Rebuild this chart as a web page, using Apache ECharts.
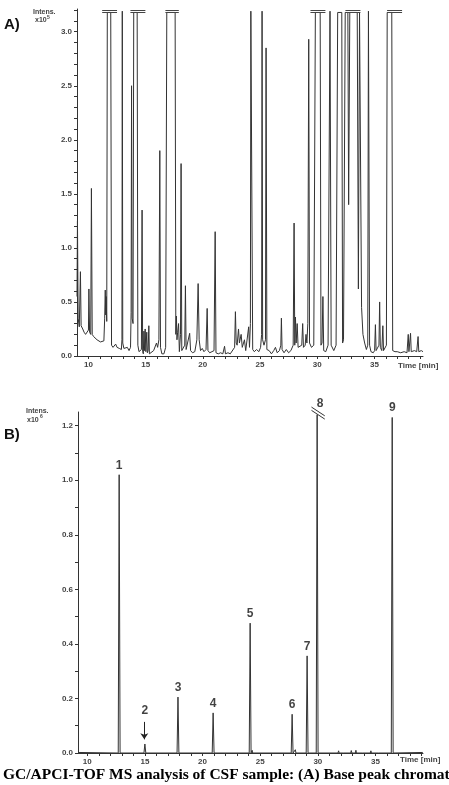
<!DOCTYPE html>
<html>
<head>
<meta charset="utf-8">
<script src="https://cdn.jsdelivr.net/npm/echarts@6/dist/echarts.min.js"></script>
<style>
html, body { margin: 0; padding: 0; background: #fff; }
#chart { width: 449px; height: 785px; }
</style>
</head>
<body>
<div id="chart"></div>
<script>
// A) base peak chromatogram, time [min] vs intensity x10^5
var traceA = [
    [9.0, 0.55], [9.04, 1.25], [9.1, 0.35], [9.2, 0.27], [9.3, 0.78], [9.36, 0.28], [9.5, 0.25], [9.62, 0.22],
    [9.75, 0.2], [9.9, 0.21], [10.0, 0.24], [10.04, 0.62], [10.1, 0.22], [10.2, 0.2], [10.26, 1.55], [10.33, 0.2],
    [10.45, 0.18], [10.6, 0.17], [10.75, 0.15], [10.9, 0.16], [11.05, 0.13], [11.2, 0.14], [11.35, 0.14],
    [11.42, 0.35], [11.47, 0.61], [11.51, 0.38], [11.55, 0.55], [11.6, 0.32],
    [11.65, 3.178], [11.95, 3.178], [12.02, 0.1], [12.15, 0.08], [12.3, 0.09], [12.38, 0.11], [12.5, 0.08],
    [12.7, 0.07], [12.88, 0.06], [12.93, 0.15], [12.96, 3.19], [13.0, 0.12], [13.1, 0.07], [13.25, 0.06],
    [13.4, 0.08], [13.55, 0.05], [13.68, 0.08], [13.73, 0.4], [13.77, 2.5], [13.82, 0.35], [13.9, 0.3],
    [13.96, 3.178], [14.26, 3.178], [14.32, 0.1], [14.42, 0.04], [14.55, 0.03], [14.63, 0.06], [14.69, 1.35],
    [14.74, 0.04], [14.8, 0.02], [14.85, 0.23], [14.9, 0.05], [14.96, 0.25], [15.02, 0.04], [15.1, 0.22],
    [15.15, 0.03], [15.22, 0.05], [15.28, 0.28], [15.33, 0.02], [15.5, 0.03], [15.7, 0.05], [15.85, 0.04],
    [15.95, 0.12], [16.05, 0.08], [16.16, 0.15], [16.24, 1.9], [16.3, 0.08], [16.42, 0.02], [16.6, 0.02],
    [16.75, 0.08], [16.85, 3.178], [17.58, 3.178], [17.64, 0.2], [17.69, 0.37], [17.74, 0.15], [17.8, 0.22],
    [17.88, 0.3], [17.95, 0.04], [18.05, 0.2], [18.1, 1.78], [18.16, 0.05], [18.3, 0.04], [18.42, 0.1],
    [18.48, 0.65], [18.54, 0.06], [18.7, 0.05], [18.85, 0.21], [18.93, 0.05], [19.1, 0.03], [19.3, 0.04],
    [19.48, 0.15], [19.59, 0.67], [19.68, 0.15], [19.8, 0.05], [19.95, 0.07], [20.1, 0.04], [20.28, 0.06],
    [20.38, 0.44], [20.45, 0.05], [20.6, 0.03], [20.8, 0.04], [20.98, 0.05], [21.08, 1.15], [21.15, 0.03],
    [21.35, 0.02], [21.55, 0.03], [21.75, 0.02], [21.9, 0.09], [21.98, 0.02], [22.2, 0.03], [22.4, 0.02],
    [22.55, 0.03], [22.78, 0.08], [22.85, 0.41], [22.92, 0.12], [23.0, 0.1], [23.12, 0.25], [23.2, 0.12],
    [23.35, 0.2], [23.45, 0.08], [23.64, 0.15], [23.75, 0.05], [23.9, 0.06], [24.01, 0.27], [24.08, 0.08],
    [24.16, 0.3], [24.2, 3.19], [24.3, 3.19], [24.36, 0.06], [24.5, 0.04], [24.7, 0.06], [24.9, 0.04],
    [25.05, 0.08], [25.14, 0.2], [25.18, 3.19], [25.23, 0.15], [25.35, 0.1], [25.48, 0.15], [25.53, 2.85],
    [25.6, 0.06], [25.8, 0.05], [26.0, 0.02], [26.2, 0.05], [26.35, 0.08], [26.5, 0.03], [26.7, 0.05],
    [26.82, 0.1], [26.87, 0.35], [26.93, 0.06], [27.1, 0.03], [27.3, 0.06], [27.5, 0.03], [27.7, 0.05],
    [27.9, 0.1], [27.98, 1.23], [28.04, 0.1], [28.1, 0.36], [28.16, 0.12], [28.25, 0.3], [28.33, 0.08],
    [28.5, 0.08], [28.65, 0.1], [28.73, 0.3], [28.8, 0.08], [28.95, 0.1], [29.02, 0.2], [29.1, 0.12],
    [29.18, 0.3], [29.26, 2.93], [29.33, 0.12], [29.5, 0.08], [29.7, 0.1], [29.84, 3.178], [30.26, 3.178],
    [30.33, 0.1], [30.42, 0.12], [30.5, 0.55], [30.57, 0.05], [30.75, 0.04], [30.95, 0.1], [31.12, 3.19],
    [31.22, 0.1], [31.45, 0.05], [31.65, 0.1], [31.79, 3.178], [32.15, 3.178], [32.22, 0.12], [32.3, 0.15],
    [32.45, 3.178], [32.68, 3.178], [32.75, 1.4], [32.85, 3.178], [33.5, 3.178], [33.6, 0.62], [33.7, 3.178],
    [33.8, 3.178], [33.88, 0.45], [34.0, 0.2], [34.15, 0.12], [34.3, 0.06], [34.42, 0.1], [34.48, 3.19],
    [34.58, 0.1], [34.7, 0.04], [34.9, 0.03], [35.02, 0.05], [35.09, 0.29], [35.15, 0.05], [35.3, 0.04],
    [35.4, 0.1], [35.46, 0.5], [35.52, 0.08], [35.65, 0.05], [35.74, 0.28], [35.8, 0.05], [35.95, 0.04],
    [36.05, 0.1], [36.12, 3.178], [36.52, 3.178], [36.6, 0.05], [36.8, 0.04], [37.0, 0.04], [37.3, 0.03],
    [37.6, 0.04], [37.85, 0.03], [37.96, 0.2], [38.02, 0.04], [38.1, 0.05], [38.16, 0.21], [38.22, 0.04],
    [38.5, 0.05], [38.7, 0.04], [38.82, 0.18], [38.88, 0.04], [39.1, 0.05], [39.25, 0.04]
];
// off-scale peaks: start / end time of the "=" caps
var capsA = [[11.2, 12.5], [13.67, 14.98], [16.73, 17.9], [29.41, 30.72], [32.47, 33.78], [36.11, 37.42]];

// B) identified peaks 1..9, intensity x10^6
var peakNamesB = ['1', '2', '3', '4', '5', '6', '7', '8', '9'];
var peakTimesB = [12.77, 15.0, 17.87, 20.92, 24.13, 27.77, 29.07, 29.94, 36.45];
var peakHeightsB = [1.02, 0.033, 0.205, 0.147, 0.476, 0.142, 0.356, 1.24, 1.23];
var noiseB = [[24.3, 0.01], [28.05, 0.012], [31.8, 0.008], [32.3, 0.006], [32.9, 0.009], [33.3, 0.01],
    [33.9, 0.006], [34.6, 0.008], [35.3, 0.006]];

var xLabels = [10, 15, 20, 25, 30, 35];
var xTicks = [10, 11, 12, 13, 14, 15, 16, 17, 18, 19, 20, 21, 22, 23, 24, 25, 26, 27, 28, 29, 30,
    31, 32, 33, 34, 35, 36, 37, 38, 39];
var yLabelsA = [0, 0.5, 1.0, 1.5, 2.0, 2.5, 3.0];
var yTicksA = [0, 0.1, 0.2, 0.3, 0.4, 0.5, 0.6, 0.7, 0.8, 0.9, 1.0, 1.1, 1.2, 1.3, 1.4, 1.5, 1.6, 1.7,
    1.8, 1.9, 2.0, 2.1, 2.2, 2.3, 2.4, 2.5, 2.6, 2.7, 2.8, 2.9, 3.0, 3.1, 3.2];
var yLabelsB = [0, 0.2, 0.4, 0.6, 0.8, 1.0, 1.2];
var yTicksB = [0, 0.1, 0.2, 0.3, 0.4, 0.5, 0.6, 0.7, 0.8, 0.9, 1.0, 1.1, 1.2];

var FONT = '"Liberation Sans", Arial, sans-serif';

// trace B: each peak / noise blip drawn as a narrow spike on a zero baseline
var traceB = [[9.2, 0.002], [39.1, 0.002]];
for (var i = 0; i < peakTimesB.length; i++) {
    traceB.push([peakTimesB[i] - 0.08, 0], [peakTimesB[i], peakHeightsB[i]], [peakTimesB[i] + 0.08, 0]);
}
noiseB.forEach(function (n) {
    traceB.push([n[0] - 0.05, 0], [n[0], n[1]], [n[0] + 0.05, 0]);
});
traceB.sort(function (a, b) { return a[0] - b[0]; });

var capLines = [];
capsA.forEach(function (c) {
    capLines.push([{ coord: [c[0], 3.202] }, { coord: [c[1], 3.202] }]);
    capLines.push([{ coord: [c[0], 3.178] }, { coord: [c[1], 3.178] }]);
});

function xAxisCfg(idx, min, max) {
    return {
        type: 'value', gridIndex: idx, min: min, max: max,
        axisLine: { lineStyle: { color: '#333', width: 1 } },
        axisTick: { length: 3, customValues: xTicks, lineStyle: { color: '#333' } },
        axisLabel: { customValues: xLabels, fontSize: 8, fontWeight: 'bold', color: '#444', margin: 5, fontFamily: FONT },
        splitLine: { show: false }
    };
}
function yAxisCfg(idx, max, labels, ticks) {
    return {
        type: 'value', gridIndex: idx, min: 0, max: max,
        axisLine: { show: true, lineStyle: { color: '#333', width: 1 } },
        axisTick: { show: true, length: 3, customValues: ticks, lineStyle: { color: '#333' } },
        axisLabel: {
            customValues: labels, fontSize: 8, fontWeight: 'bold', color: '#444', margin: 5, fontFamily: FONT,
            formatter: function (v) { return v.toFixed(1); }
        },
        splitLine: { show: false }
    };
}

// the "//" axis-break sign over peak 8 (drawn above the axis top, so unclipped)
function breakLine(y0, y1) {
    return {
        type: 'line', xAxisIndex: 1, yAxisIndex: 1, data: [[29.45, y0], [30.6, y1]],
        showSymbol: false, symbol: 'none', clip: false, silent: true,
        lineStyle: { color: '#333', width: 1 }
    };
}

var myChart = echarts.init(document.getElementById('chart'));
var option = {
    animation: false,
    backgroundColor: '#fff',
    grid: [
        { left: 77, top: 9, width: 346, height: 347 },
        { left: 78, top: 412, width: 345, height: 341 }
    ],
    xAxis: [xAxisCfg(0, 9, 39.25), xAxisCfg(1, 9.2, 39.12)],
    yAxis: [yAxisCfg(0, 3.21, yLabelsA, yTicksA), yAxisCfg(1, 1.25, yLabelsB, yTicksB)],
    series: [
        {
            name: 'A', type: 'line', xAxisIndex: 0, yAxisIndex: 0, data: traceA,
            showSymbol: false, symbol: 'none', clip: false, silent: true,
            lineStyle: { color: '#333', width: 1 },
            markLine: {
                silent: true, symbol: ['none', 'none'], label: { show: false },
                lineStyle: { color: '#444', width: 1, type: 'solid' },
                data: capLines
            }
        },
        {
            name: 'B', type: 'line', xAxisIndex: 1, yAxisIndex: 1, data: traceB,
            showSymbol: false, symbol: 'none', clip: false, silent: true,
            lineStyle: { color: '#333', width: 1 },
            markLine: {
                silent: true, symbol: ['none', 'none'], label: { show: false },
                lineStyle: { color: '#222', width: 1, type: 'solid' },
                data: [
                    [{ coord: [14.95, 0.114] }, { coord: [14.95, 0.05], symbol: 'arrow', symbolSize: 6 }]
                ]
            }
        },
        breakLine(1.268, 1.236),
        breakLine(1.256, 1.224),
        {
            name: 'peaks', type: 'scatter', xAxisIndex: 1, yAxisIndex: 1, silent: true,
            symbolSize: 1, itemStyle: { color: 'rgba(0,0,0,0)' },
            data: peakTimesB.map(function (t, i) {
                var item = { value: [t, peakHeightsB[i]] };
                if (i === 1) item.label = { distance: 27 };
                if (i === 7) item.label = { distance: 5, offset: [3, 0] };
                return item;
            }),
            label: {
                show: true, position: 'top', distance: 3,
                fontSize: 12, fontWeight: 'bold', color: '#111', fontFamily: FONT,
                formatter: function (p) { return peakNamesB[p.dataIndex]; }
            }
        }
    ],
    graphic: [
        { type: 'text', left: 4, top: 17, style: { text: 'A)', font: 'bold 15px ' + FONT, fill: '#111' } },
        { type: 'text', left: 33, top: 9, style: { text: 'Intens.', font: 'bold 7px ' + FONT, fill: '#444' } },
        { type: 'text', left: 35, top: 17, style: { text: 'x10', font: 'bold 7px ' + FONT, fill: '#444' } },
        { type: 'text', left: 47, top: 15, style: { text: '5', font: 'bold 5px ' + FONT, fill: '#444' } },
        { type: 'text', left: 398, top: 362, style: { text: 'Time [min]', font: 'bold 8px ' + FONT, fill: '#444' } },
        { type: 'text', left: 4, top: 427, style: { text: 'B)', font: 'bold 15px ' + FONT, fill: '#111' } },
        { type: 'text', left: 26, top: 408, style: { text: 'Intens.', font: 'bold 7px ' + FONT, fill: '#444' } },
        { type: 'text', left: 27, top: 417, style: { text: 'x10', font: 'bold 7px ' + FONT, fill: '#444' } },
        { type: 'text', left: 40, top: 414, style: { text: '6', font: 'bold 5px ' + FONT, fill: '#444' } },
        { type: 'text', left: 400, top: 756, style: { text: 'Time [min]', font: 'bold 8px ' + FONT, fill: '#444' } },
        { type: 'text', left: 3, top: 767, style: { text: 'GC/APCI-TOF MS analysis of CSF sample: (A) Base peak chromat', font: 'bold 15.5px "Liberation Serif", serif', fill: '#000' } }
    ]
};
myChart.setOption(option);
window.onresize = function () { myChart.resize(); };
</script>
</body>
</html>
